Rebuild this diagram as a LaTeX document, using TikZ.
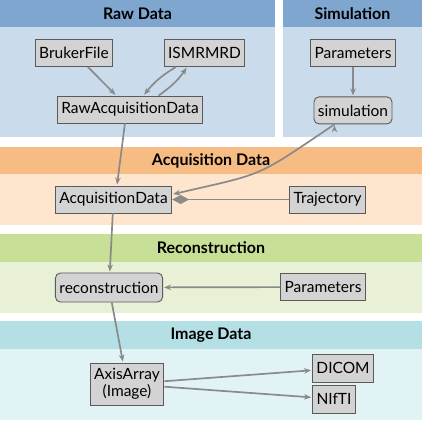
\documentclass[tikz,border=0pt]{standalone}
\usepackage{fontspec}
\setmainfont{Lato}
\usetikzlibrary{arrows,arrows.meta,positioning,calc}

\definecolor{rawhead}{HTML}{7EA6CE}
\definecolor{rawbody}{HTML}{CADCEC}
\definecolor{acqhead}{HTML}{F7BC83}
\definecolor{acqbody}{HTML}{FDE5CE}
\definecolor{recohead}{HTML}{C7DF96}
\definecolor{recobody}{HTML}{E8F1D5}
\definecolor{imghead}{HTML}{B4DFE4}
\definecolor{imgbody}{HTML}{E1F3F4}
\definecolor{boxfill}{HTML}{D3D3D3}
\definecolor{boxline}{HTML}{5A5A5A}
\definecolor{flowline}{HTML}{8A8A8A}

\begin{document}
\begin{tikzpicture}[x=1pt, y=1pt, >={Stealth[length=7pt,width=5.5pt]},
    font=\fontsize{15.5}{17}\selectfont,
    block/.style={draw=boxline, fill=boxfill, line width=0.9pt,
      minimum height=27pt, inner xsep=4pt},
    func/.style={block, rounded corners=5pt},
    flow/.style={draw=flowline, line width=1.7pt, shorten >=1pt},
    title/.style={font=\fontsize{16}{18}\selectfont\bfseries}]
    \useasboundingbox (0,0) rectangle (422,420);
    % panels
    \fill[rawbody]  (0,283) rectangle (275,420);
    \fill[rawhead]  (0,393) rectangle (275,420);
    \fill[rawbody]  (283,283) rectangle (422,420);
    \fill[rawhead]  (283,393) rectangle (422,420);
    \fill[acqbody]  (0,195) rectangle (422,246);
    \fill[acqhead]  (0,246) rectangle (422,273);
    \fill[recobody] (0,107) rectangle (422,158);
    \fill[recohead] (0,158) rectangle (422,186);
    \fill[imgbody]  (0,0) rectangle (422,71);
    \fill[imghead]  (0,71) rectangle (422,99);
    \node [title] (rawtitle)  at (137.5,406.5) {Raw Data};
    \node [title] (simtitle)  at (352.5,406.5) {Simulation};
    \node [title] (acqtitle)  at (211,259.5)   {Acquisition Data};
    \node [title] (recotitle) at (211,172)     {Reconstruction};
    \node [title] (imgtitle)  at (211,85)      {Image Data};
    % nodes
    \node [block] (bruker)    at (74,367)    {BrukerFile};
    \node [block] (ismrmrd)   at (204.5,367) {ISMRMRD};
    \node [block] (rawacq)    at (130,310.5) {RawAcquisitionData};
    \node [block] (simparams) at (353,367)   {Parameters};
    \node [func, below=29.5pt of simparams] (sim) {simulation};
    \node [block] (acq)       at (113.5,220.5) {AcquisitionData};
    \node [block] (traj)      at (327.5,220.5) {Trajectory};
    \node [func, minimum height=29pt] (reco) at (109,132.5) {reconstruction};
    \node [block] (recoparams) at (323,133)  {Parameters};
    \node [block, align=center, minimum height=42pt] (axis) at (127,36)
      {AxisArray\\(Image)};
    \node [block, minimum height=28pt] (dicom) at (343,52) {DICOM};
    \node [block, minimum height=28pt] (nifti) at (334,21) {NIfTI};
    % connectors
    \path[flow, ->] (bruker) edge (rawacq)
                    (ismrmrd.206) edge [bend right=10] (rawacq.46)
                    (rawacq.26) edge [bend right=10] (ismrmrd.219)
                    (simparams) edge (sim)
                    (rawacq.250) edge (acq.76)
                    (sim.217) edge [out=214, in=13, looseness=1.4] (acq.5)
                    (acq) edge (reco)
                    (recoparams) edge (reco)
                    (reco) edge (axis)
                    (axis) edge (dicom)
                    (axis) edge (nifti);
    \draw[flow, -{Diamond[length=17pt,width=9pt]}, shorten >=0pt] (traj) -- (acq);
\end{tikzpicture}
\end{document}
